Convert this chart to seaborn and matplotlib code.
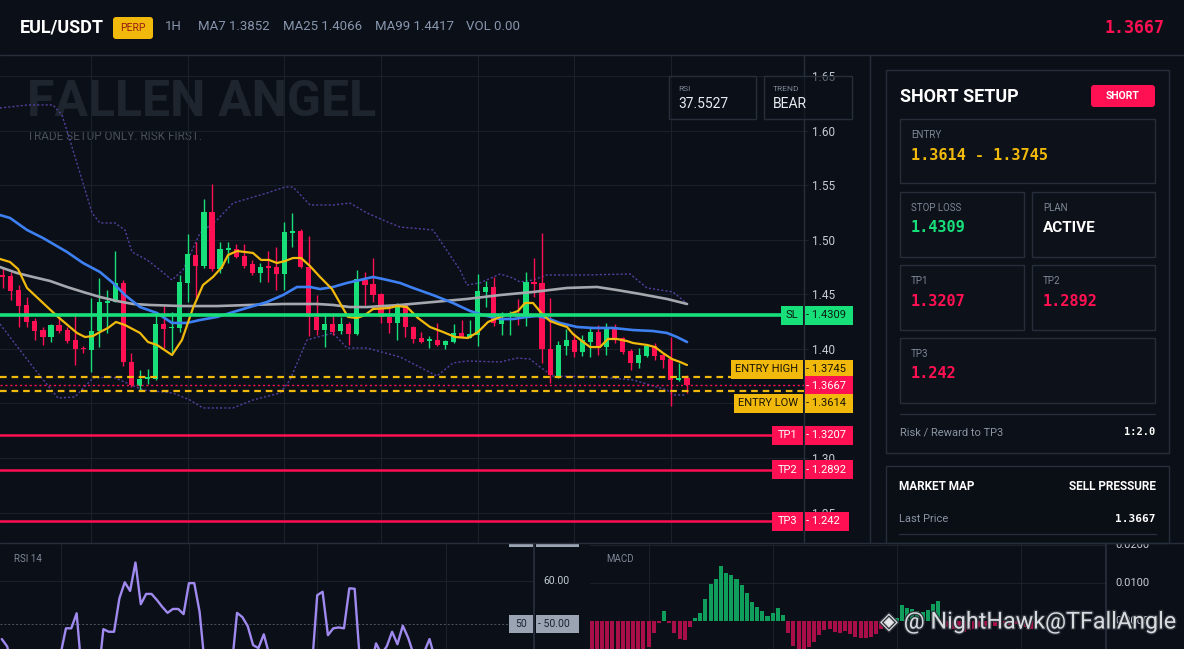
import matplotlib
matplotlib.use("Agg")
import numpy as np
import pandas as pd
import matplotlib.pyplot as plt
import matplotlib.transforms as mtransforms
from matplotlib.patches import Rectangle, FancyBboxPatch
import matplotlib.patheffects as pe
import seaborn as sns

# ---------------- data ----------------
symbol = "EUL/USDT"
market_type = "PERP"
timeframe = "1H"
ma7_last = 1.3852
ma25_last = 1.4066
ma99_last = 1.4417
volume_last = 0.00
last_price = 1.3667
entry_low = 1.3614
entry_high = 1.3745
stop_loss = 1.4309
tp1 = 1.3207
tp2 = 1.2892
tp3 = 1.242
rsi_last = 37.5527
trend_label = "BEAR"
plan_status = "ACTIVE"
risk_reward = "1:2.0"
market_bias = "SELL PRESSURE"
watermark = "◈ @ NightHawk@TFallAngle"

price_ticks = [1.25, 1.30, 1.35, 1.40, 1.45, 1.50, 1.55, 1.60, 1.65]
price_tick_labels = ["1.25", "1.30", "", "1.40", "1.45", "1.50", "1.55", "1.60", "1.65"]
rsi_levels = [50, 60, 70]
macd_ticks = [0.0, 0.01, 0.02]
macd_tick_labels = ["0.0000", "0.0100", "0.0200"]
session_grid = [11, 23, 35, 47, 59, 71, 83]
panel_grid = [11, 35, 59, 83]

candle_open = [1.4679, 1.4670, 1.4541, 1.4404, 1.4257, 1.4174, 1.4113, 1.4220, 1.4174, 1.4083,
               1.4009, 1.3991, 1.4165, 1.4425, 1.4434, 1.4603, 1.3884, 1.3664, 1.3722, 1.3725,
               1.4229, 1.4190, 1.4195, 1.4608, 1.4862, 1.4764, 1.5260, 1.4731, 1.4908, 1.4917,
               1.4853, 1.4777, 1.4700, 1.4755, 1.4750, 1.4688, 1.5067, 1.5083, 1.4755, 1.4291,
               1.4174, 1.4229, 1.4168, 1.4229, 1.4138, 1.4633, 1.4596, 1.4505, 1.4297, 1.4241,
               1.4404, 1.4199, 1.4098, 1.4073, 1.4083, 1.4037, 1.4067, 1.4144, 1.4098, 1.4128,
               1.4520, 1.4566, 1.4229, 1.4303, 1.4306, 1.4297, 1.4617, 1.4608, 1.3997, 1.3746,
               1.4028, 1.4083, 1.3975, 1.4067, 1.4153, 1.4021, 1.4199, 1.4098, 1.3985, 1.3875,
               1.3936, 1.4028, 1.3945, 1.3905, 1.3716, 1.3734]
candle_high = [1.4740, 1.4709, 1.4587, 1.4480, 1.4282, 1.4205, 1.4229, 1.4312, 1.4205, 1.4328,
               1.4030, 1.4465, 1.4649, 1.4541, 1.4902, 1.4633, 1.3961, 1.3807, 1.3817, 1.4328,
               1.4394, 1.4342, 1.4679, 1.5055, 1.4985, 1.5376, 1.5514, 1.4985, 1.4985, 1.4963,
               1.4963, 1.4817, 1.4786, 1.4902, 1.4939, 1.5168, 1.5245, 1.5098, 1.5037, 1.4495,
               1.4328, 1.4328, 1.4297, 1.4250, 1.4725, 1.4709, 1.4832, 1.4511, 1.4388, 1.4419,
               1.4419, 1.4211, 1.4159, 1.4119, 1.4241, 1.4083, 1.4227, 1.4266, 1.4266, 1.4688,
               1.4627, 1.4663, 1.4342, 1.4349, 1.4456, 1.4709, 1.4832, 1.5061, 1.4465, 1.4076,
               1.4181, 1.4144, 1.4128, 1.4190, 1.4220, 1.4241, 1.4229, 1.4113, 1.3997, 1.4006,
               1.4037, 1.4052, 1.3961, 1.4107, 1.3869, 1.3761]
candle_low = [1.4557, 1.4450, 1.4205, 1.4205, 1.4083, 1.4037, 1.4067, 1.4150, 1.4052, 1.3853,
              1.3961, 1.3792, 1.4021, 1.4144, 1.4428, 1.3847, 1.3654, 1.3624, 1.3679, 1.3716,
              1.4006, 1.3945, 1.4159, 1.4434, 1.4450, 1.4740, 1.4718, 1.4700, 1.4786, 1.4832,
              1.4740, 1.4679, 1.4617, 1.4617, 1.4541, 1.4541, 1.4939, 1.4740, 1.4119, 1.4128,
              1.4021, 1.4128, 1.4138, 1.4037, 1.4128, 1.4404, 1.4434, 1.4236, 1.4144, 1.4083,
              1.4113, 1.4052, 1.4058, 1.4006, 1.4028, 1.3997, 1.4058, 1.4098, 1.4098, 1.4028,
              1.4388, 1.4211, 1.4128, 1.4128, 1.4220, 1.4211, 1.4480, 1.3869, 1.3691, 1.3731,
              1.3945, 1.3924, 1.3936, 1.3930, 1.3945, 1.3945, 1.4052, 1.3954, 1.3807, 1.3823,
              1.3930, 1.3899, 1.3823, 1.3477, 1.3709, 1.3594]
candle_close = [1.4663, 1.4535, 1.4394, 1.4250, 1.4168, 1.4113, 1.4220, 1.4168, 1.4076, 1.4003,
                1.3997, 1.4165, 1.4434, 1.4443, 1.4608, 1.3884, 1.3670, 1.3725, 1.3740, 1.4229,
                1.4183, 1.4205, 1.4617, 1.4872, 1.4761, 1.5260, 1.4731, 1.4917, 1.4917, 1.4841,
                1.4761, 1.4694, 1.4750, 1.4746, 1.4688, 1.5076, 1.5083, 1.4755, 1.4291, 1.4174,
                1.4229, 1.4159, 1.4229, 1.4138, 1.4639, 1.4587, 1.4495, 1.4291, 1.4241, 1.4388,
                1.4205, 1.4092, 1.4067, 1.4085, 1.4037, 1.4073, 1.4144, 1.4107, 1.4135, 1.4532,
                1.4566, 1.4236, 1.4282, 1.4312, 1.4291, 1.4617, 1.4596, 1.3997, 1.3761, 1.4037,
                1.4083, 1.3975, 1.4083, 1.4153, 1.4021, 1.4199, 1.4098, 1.3975, 1.3875, 1.3945,
                1.4028, 1.3936, 1.3899, 1.3716, 1.3734, 1.3667]

# moving averages / bands: (candle position, price)
ma7_pos = [-0.34, 0.91, 1.90, 3.02, 5.01, 6.87, 9.23, 10.22, 11.22, 12.09, 13.08, 14.07, 15.19, 17.06,
           18.05, 19.17, 21.03, 22.27, 23.64, 24.88, 26.12, 27.24, 27.99, 29.11, 30.10, 31.09, 32.09,
           33.08, 34.07, 35.07, 36.06, 37.06, 38.17, 39.42, 40.91, 41.90, 42.89, 44.01, 45.01, 46.00,
           47.99, 48.98, 50.22, 51.59, 53.08, 54.70, 56.19, 57.80, 59.04, 60.29, 61.78, 63.02, 64.02,
           64.89, 65.88, 67.12, 67.99, 68.98, 70.10, 70.84, 71.96, 72.96, 74.20, 75.19, 76.31, 77.55,
           78.30, 80.04, 81.03, 82.02, 83.14, 84.14, 85.01]
ma7_val = [1.4826, 1.4798, 1.4734, 1.4560, 1.4422, 1.4294, 1.4147, 1.4110, 1.4119, 1.4156, 1.4193,
           1.4248, 1.4220, 1.4147, 1.4064, 1.4037, 1.3945, 1.4083, 1.4376, 1.4587, 1.4661, 1.4752,
           1.4862, 1.4899, 1.4890, 1.4881, 1.4817, 1.4817, 1.4789, 1.4807, 1.4835, 1.4835, 1.4761,
           1.4661, 1.4550, 1.4422, 1.4294, 1.4284, 1.4312, 1.4367, 1.4376, 1.4394, 1.4385, 1.4284,
           1.4202, 1.4156, 1.4110, 1.4101, 1.4156, 1.4248, 1.4294, 1.4321, 1.4349, 1.4422, 1.4422,
           1.4312, 1.4257, 1.4229, 1.4202, 1.4138, 1.4073, 1.4018, 1.4018, 1.4092, 1.4092, 1.4073,
           1.4055, 1.4037, 1.4018, 1.3963, 1.3908, 1.3881, 1.3853]
ma25_pos = [-0.34, 0.91, 3.02, 5.01, 7.99, 9.98, 12.09, 13.70, 15.19, 17.06, 19.17, 21.03, 22.89,
            24.51, 26.62, 29.48, 32.83, 34.82, 36.56, 38.17, 39.42, 41.03, 42.77, 44.38, 46.00, 47.24,
            49.35, 50.97, 53.45, 55.94, 58.05, 59.66, 61.78, 63.39, 65.13, 66.37, 67.61, 69.23, 71.34,
            73.33, 75.81, 78.30, 80.78, 82.52, 83.76, 85.01]
ma25_val = [1.5229, 1.5202, 1.5092, 1.5018, 1.4890, 1.4789, 1.4706, 1.4606, 1.4495, 1.4385, 1.4330,
            1.4239, 1.4239, 1.4266, 1.4294, 1.4358, 1.4431, 1.4495, 1.4569, 1.4569, 1.4550, 1.4569,
            1.4606, 1.4633, 1.4661, 1.4642, 1.4606, 1.4560, 1.4495, 1.4422, 1.4349, 1.4312, 1.4275,
            1.4275, 1.4294, 1.4303, 1.4284, 1.4239, 1.4202, 1.4193, 1.4193, 1.4174, 1.4165, 1.4147,
            1.4110, 1.4064]
ma99_pos = [-0.34, 1.78, 3.76, 5.88, 7.99, 9.98, 12.09, 14.20, 16.19, 18.30, 22.40, 26.62, 30.72,
            34.82, 39.04, 41.03, 43.14, 45.25, 49.35, 53.45, 57.67, 61.78, 65.88, 70.10, 73.83, 76.31,
            79.17, 82.52, 85.01]
ma99_val = [1.4752, 1.4697, 1.4661, 1.4624, 1.4569, 1.4523, 1.4477, 1.4440, 1.4413, 1.4404, 1.4394,
            1.4394, 1.4404, 1.4413, 1.4413, 1.4404, 1.4385, 1.4385, 1.4404, 1.4431, 1.4459, 1.4495,
            1.4523, 1.4560, 1.4569, 1.4541, 1.4505, 1.4459, 1.4413]
bb_up_pos = [-0.34, 3.14, 6.25, 7.37, 8.61, 10.35, 11.09, 12.09, 13.95, 15.19, 16.06, 17.93, 19.54,
             21.03, 22.40, 24.51, 26.62, 28.61, 32.83, 35.07, 36.06, 38.17, 41.03, 43.14, 45.25, 47.24,
             49.35, 53.45, 56.81, 57.67, 59.29, 61.78, 63.39, 64.26, 65.88, 67.61, 72.09, 77.93, 80.04,
             83.27, 84.76]
bb_up_val = [1.6211, 1.6239, 1.6239, 1.6147, 1.5853, 1.5431, 1.5248, 1.5156, 1.5156, 1.5092, 1.4890,
             1.4817, 1.4725, 1.4633, 1.4725, 1.5064, 1.5183, 1.5339, 1.5431, 1.5486, 1.5486, 1.5321,
             1.5321, 1.5339, 1.5248, 1.5183, 1.5119, 1.5092, 1.4725, 1.4587, 1.4606, 1.4688, 1.4651,
             1.4615, 1.4633, 1.4679, 1.4679, 1.4688, 1.4560, 1.4523, 1.4431]
bb_lo_pos = [-0.34, 3.76, 6.87, 8.98, 11.22, 13.70, 15.44, 17.43, 21.16, 23.27, 24.88, 28.61, 31.09,
             34.45, 35.69, 37.80, 41.03, 42.77, 45.25, 49.35, 53.95, 55.94, 57.67, 61.78, 63.89, 65.50,
             66.75, 68.36, 74.20, 78.30, 82.52, 83.27, 84.76]
bb_lo_val = [1.4229, 1.3835, 1.3550, 1.3560, 1.3734, 1.3743, 1.3688, 1.3624, 1.3596, 1.3532, 1.3459,
             1.3459, 1.3532, 1.3596, 1.3716, 1.4083, 1.4147, 1.4009, 1.4009, 1.3927, 1.3752, 1.3872,
             1.3890, 1.3881, 1.3917, 1.3908, 1.3835, 1.3752, 1.3743, 1.3716, 1.3624, 1.3578, 1.3578]

rsi_values = [46.5, 44.8, 40.0, 36.0, 33.0, 31.0, 35.0, 33.5, 31.5, 29.5,
              29.0, 43.0, 49.0, 49.0, 52.5, 38.0, 33.0, 34.5, 37.3, 48.8,
              48.2, 48.2, 56.0, 59.7, 57.7, 64.3, 54.6, 57.0, 57.0, 55.6,
              54.0, 52.6, 53.5, 53.5, 52.3, 59.5, 59.5, 52.8, 40.0, 38.0,
              39.0, 38.0, 39.5, 40.0, 52.6, 51.6, 49.5, 45.1, 44.4, 47.6,
              43.0, 40.0, 38.0, 39.0, 37.0, 39.0, 40.0, 41.0, 40.0, 56.7,
              57.5, 47.4, 49.0, 49.2, 49.0, 58.3, 58.2, 41.0, 36.0, 40.0,
              45.5, 43.0, 44.8, 48.2, 45.3, 49.6, 46.8, 43.0, 41.0, 43.5,
              46.5, 42.0, 41.0, 40.0, 34.0, 37.55]
macd_hist = [-0.0095, -0.0098, -0.0100, -0.0100, -0.0098, -0.0095, -0.0093, -0.0090, -0.0088, -0.0085,
             -0.0080, -0.0068, -0.0032, -0.0006, 0.0026, -0.0006, -0.0031, -0.0047, -0.0050, -0.0015,
             0.0007, 0.0020, 0.0057, 0.0097, 0.0110, 0.0144, 0.0126, 0.0122, 0.0110, 0.0096,
             0.0075, 0.0050, 0.0036, 0.0027, 0.0013, 0.0022, 0.0033, 0.0016, -0.0031, -0.0066,
             -0.0080, -0.0082, -0.0068, -0.0054, -0.0037, -0.0024, -0.0022, -0.0028, -0.0031, -0.0026,
             -0.0033, -0.0041, -0.0044, -0.0044, -0.0041, -0.0033, -0.0022, -0.0006, -0.0005, 0.0007,
             0.0043, 0.0033, 0.0031, 0.0027, 0.0024, 0.0030, 0.0046, 0.0053, -0.0006, -0.0015,
             -0.0020, -0.0022, -0.0028, -0.0025, -0.0020, -0.0015, -0.0012, -0.0010, -0.0012, -0.0015,
             -0.0012, -0.0010, -0.0008, -0.0010, -0.0015, -0.0020]

# ---------------- style ----------------
BG = "#0b0f17"
GRID = "#1b212b"
BORDER = "#272e3b"
CARD = "#0d1119"
GREEN = "#17e07b"
RED = "#ff1052"
GOLD = "#f0b90b"
BLUE = "#3d80f2"
GREY_MA = "#a5a8ae"
BB_COL = "#5340a0"
RSI_COL = "#a08af0"
MACD_UP = "#0f9e5b"
MACD_DN = "#a80f48"
DIM = "#8796ad"
LBL = "#7d8797"
AXT = "#c5ccd6"

sns.set_theme(style="dark", rc={"axes.facecolor": BG, "figure.facecolor": BG})
plt.rcParams["font.family"] = ["Roboto", "DejaVu Sans"]
MONO = ["DejaVu Sans Mono", "DejaVu Sans"]

W, H = 1184, 649
fig = plt.figure(figsize=(W / 100, H / 100), dpi=100, facecolor=BG)


def frect(x0, y0, x1, y1):
    return [x0 / W, 1 - y1 / H, (x1 - x0) / W, (y1 - y0) / H]


X0, X1 = -0.335, 99.54
idx = np.arange(len(candle_close))

# ---------------- RSI panel ----------------
rax = fig.add_axes(frect(0, 543, 534, 649), zorder=1)
rax.set_facecolor(BG)
rax.set_xlim(X0, X1)
rax.set_ylim(44.19, 68.84)
for g in panel_grid:
    rax.axvline(g, color=GRID, lw=0.8, zorder=0)
rax.axhline(rsi_levels[1], color=GRID, lw=0.8, zorder=0)
rax.axhline(rsi_levels[0], xmax=509 / 534, color="#4d5562", lw=0.7, ls=(0, (2, 2)), zorder=1)
sns.lineplot(x=idx, y=rsi_values, ax=rax, color=RSI_COL, linewidth=1.7, sort=False,
             estimator=None, legend=False, zorder=3)
rax.set_xticks([]); rax.set_yticks([])
rax.set_xlabel(""); rax.set_ylabel("")
for s in ["top", "left", "bottom"]:
    rax.spines[s].set_visible(False)
rax.spines["right"].set_color(BORDER)
rtr = mtransforms.blended_transform_factory(rax.transAxes, rax.transData)
rsi_hpx = (68.84 - 44.19) / 106.0
for lvl in (rsi_levels[0], rsi_levels[2]):
    hh = 9 * rsi_hpx
    rax.add_patch(Rectangle((509 / 534, lvl - hh), 24 / 534, 2 * hh, transform=rtr, fc="#9aa4b2",
                            ec="none", clip_on=False, zorder=6))
    rax.add_patch(Rectangle((536 / 534, lvl - hh), 43 / 534, 2 * hh, transform=rtr, fc="#9aa4b2",
                            ec="none", clip_on=False, zorder=6))
    rax.text(521 / 534, lvl, f"{lvl}", transform=rtr, ha="center", va="center", fontsize=7.5,
             color="#1c2330", clip_on=False, zorder=7)
    rax.text(538 / 534, lvl, f"- {lvl:.2f}", transform=rtr, ha="left", va="center", fontsize=7.5,
             color="#1c2330", clip_on=False, zorder=7)
rax.text(543 / 534, rsi_levels[1], f"{rsi_levels[1]:.2f}", transform=rtr, ha="left", va="center",
         fontsize=7.5, color=AXT, clip_on=False)

# ---------------- MACD panel ----------------
MX1 = (1106 - 590) / 5.17 - 0.335
max_ = fig.add_axes(frect(590, 543, 1106, 649), zorder=1)
max_.set_facecolor(BG)
max_.set_xlim(X0, MX1)
max_.set_ylim(-0.00737, 0.02053)
for g in panel_grid:
    max_.axvline(g, color=GRID, lw=0.8, zorder=0)
for t in macd_ticks[1:]:
    max_.axhline(t, color=GRID, lw=0.8, zorder=0)
mh = np.array(macd_hist)
max_.bar(idx, mh, width=0.78, color=np.where(mh >= 0, MACD_UP, MACD_DN), linewidth=0, zorder=2)
max_.set_xticks([]); max_.set_yticks([])
for s in ["top", "left", "bottom"]:
    max_.spines[s].set_visible(False)
max_.spines["right"].set_color(BORDER)
mtr = mtransforms.blended_transform_factory(max_.transAxes, max_.transData)
for t, lab in zip(macd_ticks, macd_tick_labels):
    max_.text(1.0 + 9 / 516, t, lab, transform=mtr, ha="left", va="center", fontsize=8,
              color=AXT, clip_on=False)

# ---------------- main price chart ----------------
YMIN, YMAX = 1.22202, 1.66972
ax = fig.add_axes(frect(0, 55, 804, 543), zorder=2)
ax.set_facecolor(BG)
ax.set_xlim(X0, X1)
ax.set_ylim(YMIN, YMAX)
ax.set_yticks(price_ticks)
ax.set_yticklabels(price_tick_labels)
ax.set_xticks(session_grid)
ax.set_xticklabels([])
ax.yaxis.tick_right()
ax.tick_params(axis="y", length=3, width=0.8, color=GRID, pad=3, labelsize=8.5, labelcolor=AXT)
ax.tick_params(axis="x", length=0)
ax.grid(True, color=GRID, lw=0.8, zorder=0)
for s in ["top", "left", "bottom"]:
    ax.spines[s].set_visible(False)
ax.spines["right"].set_color(BORDER)
ax.spines["right"].set_linewidth(1.0)

ax.text(27 / 804, 1 - (103 - 55) / 488, "FALLEN ANGEL", transform=ax.transAxes, fontsize=36,
        fontweight="bold", color="#1f252e", ha="left", va="center", zorder=0.5)
ax.text(27 / 804, 1 - (137 - 55) / 488, "TRADE SETUP ONLY. RISK FIRST.", transform=ax.transAxes,
        fontsize=8.5, color="#48505c", ha="left", va="center", zorder=0.5)

sns.lineplot(x=bb_up_pos, y=bb_up_val, ax=ax, color=BB_COL, linewidth=1.0, ls=(0, (1.5, 1.5)),
             sort=False, estimator=None, legend=False, zorder=1)
sns.lineplot(x=bb_lo_pos, y=bb_lo_val, ax=ax, color=BB_COL, linewidth=1.0, ls=(0, (1.5, 1.5)),
             sort=False, estimator=None, legend=False, zorder=1)

o = np.array(candle_open); c = np.array(candle_close)
hi = np.array(candle_high); lo = np.array(candle_low)
cols = np.where(c >= o, GREEN, RED)
ax.vlines(idx, lo, hi, colors=cols, lw=1.0, zorder=3)
ax.bar(idx, np.maximum(np.abs(c - o), 0.0016), bottom=np.minimum(o, c), width=0.64, color=cols,
       linewidth=0, zorder=3.5)

sns.lineplot(x=ma99_pos, y=ma99_val, ax=ax, color=GREY_MA, linewidth=1.9, sort=False,
             estimator=None, legend=False, zorder=4)
sns.lineplot(x=ma25_pos, y=ma25_val, ax=ax, color=BLUE, linewidth=1.9, sort=False,
             estimator=None, legend=False, zorder=4.2)
sns.lineplot(x=ma7_pos, y=ma7_val, ax=ax, color=GOLD, linewidth=1.6, sort=False,
             estimator=None, legend=False, zorder=4.4)

ax.axhline(stop_loss, xmin=0, xmax=781 / 804, color=GREEN, lw=2.6, zorder=5)
for tp in (tp1, tp2, tp3):
    ax.axhline(tp, xmin=0, xmax=772 / 804, color=RED, lw=1.8, zorder=5)
ax.axhline(entry_high, xmin=0, xmax=731 / 804, color=GOLD, lw=1.6, ls=(0, (3, 2.2)), zorder=5)
ax.axhline(entry_low, xmin=0, xmax=1.0, color=GOLD, lw=1.6, ls=(0, (3, 2.2)), zorder=5)
ax.axhline(last_price, xmin=0, xmax=1.0, color=RED, lw=1.0, ls=(0, (1.5, 2)), zorder=5)

ptr = mtransforms.blended_transform_factory(ax.transAxes, ax.transData)
ypx = (YMAX - YMIN) / 488.0


def price_tag(price, label, fc, tcol, lx0, dy=0.0, vx1=853):
    yc = price - dy * ypx
    hh = 9.5 * ypx
    if label:
        ax.add_patch(Rectangle((lx0 / 804, yc - hh), (803 - lx0) / 804, 2 * hh, transform=ptr,
                               fc=fc, ec="none", clip_on=False, zorder=8))
        ax.text((lx0 + 803) / 2 / 804, yc, label, transform=ptr, ha="center", va="center",
                fontsize=8, color=tcol, clip_on=False, zorder=9)
    ax.add_patch(Rectangle((805 / 804, yc - hh), (vx1 - 805) / 804, 2 * hh, transform=ptr,
                           fc=fc, ec="none", clip_on=False, zorder=8))
    ax.text(806 / 804, yc, f"- {price}", transform=ptr, ha="left", va="center", fontsize=8,
            color=tcol, clip_on=False, zorder=9)


price_tag(stop_loss, "SL", GREEN, "#0a1a10", 781)
price_tag(entry_high, "ENTRY HIGH", GOLD, "#1a1405", 731, dy=-7.3)
price_tag(last_price, "", RED, "white", 803, dy=0.7)
price_tag(entry_low, "ENTRY LOW", GOLD, "#1a1405", 734, dy=12)
price_tag(tp1, "TP1", RED, "white", 772)
price_tag(tp2, "TP2", RED, "white", 772)
price_tag(tp3, "TP3", RED, "white", 772, vx1=849)

# ---------------- overlay: header, cards, boxes ----------------
ov = fig.add_axes([0, 0, 1, 1], zorder=10)
ov.set_xlim(0, W)
ov.set_ylim(H, 0)
ov.axis("off")
ov.patch.set_alpha(0)

ov.plot([0, W], [55, 55], color=BORDER, lw=1)
ov.plot([0, W], [543, 543], color=BORDER, lw=1)
ov.plot([870, 870], [55, 543], color=BORDER, lw=1)

ov.text(20, 27, symbol, fontsize=13, fontweight="bold", color="white", va="center")
ov.add_patch(FancyBboxPatch((113, 17), 40, 22, boxstyle="round,pad=0,rounding_size=3", fc=GOLD,
                            ec="none"))
ov.text(133, 28, market_type, fontsize=7.5, color="#9a1d12", ha="center", va="center")
ov.text(165, 27, timeframe, fontsize=9.5, color=DIM, va="center")
ov.text(198, 27, f"MA7 {ma7_last:.4f}", fontsize=9.5, color=DIM, va="center")
ov.text(283, 27, f"MA25 {ma25_last:.4f}", fontsize=9.5, color=DIM, va="center")
ov.text(375, 27, f"MA99 {ma99_last:.4f}", fontsize=9.5, color=DIM, va="center")
ov.text(466, 27, f"VOL {volume_last:.2f}", fontsize=9.5, color=DIM, va="center")
ov.text(1164, 28, f"{last_price:.4f}", fontsize=12, fontweight="bold", color=RED, ha="right",
        va="center", family=MONO)

# RSI / TREND boxes
for bx0, bx1, lab, val in [(669, 756, "RSI", f"{rsi_last:.4f}"), (764, 852, "TREND", trend_label)]:
    ov.add_patch(Rectangle((bx0, 76), bx1 - bx0, 43, fc=BG, alpha=0.55, ec="none"))
    ov.add_patch(Rectangle((bx0, 76), bx1 - bx0, 43, fc="none", ec=BORDER, lw=1))
    ov.text(bx0 + 9, 89, lab, fontsize=6, color=LBL, va="center")
    ov.text(bx0 + 9, 104, val, fontsize=10, color="#e8ecf1", va="center")


def card(x0, y0, x1, y1, fc=CARD):
    ov.add_patch(Rectangle((x0, y0), x1 - x0, y1 - y0, fc=fc, ec=BORDER, lw=1))


card(886, 70, 1169, 453, fc="#0c1018")
ov.text(900, 97, "SHORT SETUP", fontsize=13, fontweight="bold", color="white", va="center")
ov.add_patch(FancyBboxPatch((1091, 85), 64, 22, boxstyle="round,pad=0,rounding_size=3", fc=RED,
                            ec="none"))
ov.text(1123, 96, "SHORT", fontsize=7.5, fontweight="bold", color="white", ha="center", va="center")

cards = [
    (900, 119, 1155, 183, "ENTRY", f"{entry_low} - {entry_high}", GOLD, MONO),
    (900, 192, 1024, 257, "STOP LOSS", f"{stop_loss}", GREEN, MONO),
    (1032, 192, 1155, 257, "PLAN", plan_status, "white", ["Roboto", "DejaVu Sans"]),
    (900, 265, 1024, 330, "TP1", f"{tp1}", RED, MONO),
    (1032, 265, 1155, 330, "TP2", f"{tp2}", RED, MONO),
    (900, 338, 1155, 403, "TP3", f"{tp3}", RED, MONO),
]
for x0, y0, x1, y1, lab, val, col, fam in cards:
    card(x0, y0, x1, y1)
    ov.text(x0 + 11, y0 + 16, lab, fontsize=7, color=LBL, va="center")
    ov.text(x0 + 11, y0 + 36, val, fontsize=11, fontweight="bold", color=col, va="center",
            family=fam)
ov.plot([900, 1155], [414, 414], color=BORDER, lw=1)
ov.text(900, 432, "Risk / Reward to TP3", fontsize=8, color="#8a94a3", va="center")
ov.text(1155, 432, risk_reward, fontsize=7.5, fontweight="bold", color="white", ha="right",
        va="center", family=MONO)

card(886, 466, 1169, 543, fc="#0a0e15")
ov.text(899, 486, "MARKET MAP", fontsize=8.5, fontweight="bold", color="white", va="center")
ov.text(1156, 486, market_bias, fontsize=8.5, fontweight="bold", color="white", ha="right",
        va="center")
ov.text(899, 519, "Last Price", fontsize=8, color="#8a94a3", va="center")
ov.text(1156, 519, f"{last_price:.4f}", fontsize=8, fontweight="bold", color="white", ha="right",
        va="center", family=MONO)
ov.plot([899, 1156], [534, 534], color=BORDER, lw=1)

ov.text(14, 559, "RSI 14", fontsize=7, color="#7f8898", va="center")
ov.text(606, 559, "MACD", fontsize=7, color="#7f8898", va="center")

ov.text(880, 622, watermark, color="#e9ecef", alpha=0.9, fontsize=16.8, va="center",
        family=["Roboto", "DejaVu Sans"],
        path_effects=[pe.withStroke(linewidth=2, foreground="#30353d")])

fig.savefig("out.png", dpi=100, facecolor=BG)
